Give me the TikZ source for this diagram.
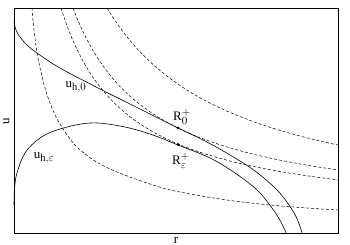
\documentclass[tikz,border=0pt]{standalone}
\usepackage{fontspec}
\setmainfont{Liberation Serif}
\DeclareMathSizes{13}{13}{10.5}{8}
\begin{document}
\begin{tikzpicture}[x=1pt,y=-1pt,
  frame/.style={line width=0.8pt},
  solidcurve/.style={line width=0.6pt},
  dashcurve/.style={line width=0.5pt,dash pattern=on 3pt off 2pt},
  lbl/.style={inner sep=0pt,font=\fontsize{13}{15}\selectfont},
  dot/.style={circle,fill=black,inner sep=0pt,minimum size=3pt}]
\useasboundingbox (0,0) rectangle (350,245);
\draw[frame] (14,8) rectangle (338,233);
% solid curves
\draw[solidcurve] plot[smooth,tension=0.6] coordinates {(14,22) (16,30) (20,37) (27,45) (37,53) (60,68) (100,89) (140,109) (178,128) (205,141) (230,155) (255,171) (277,190) (291,208) (298,221) (302,233)};
\draw[solidcurve] plot[smooth,tension=0.6] coordinates {(14,205) (14.6,188) (17,173) (25,153) (40,138) (60,129) (90,123) (120,126) (150,134) (178,145) (210,158) (235,173) (257,190) (272,208) (281,222) (286,233)};
% dashed curves
\draw[dashcurve] plot[smooth,tension=0.6] coordinates {(32,8) (34,30) (38,58) (45,88) (52,108) (60,124) (75,145) (95,161) (117,172) (150,184) (175,191) (220,199) (260,204) (300,207.5) (338,210)};
\draw[dashcurve] plot[domain=61:338,samples=80] (\x,{220.94-140.96/((\x+5.2)/100)});
\draw[dashcurve] plot[domain=73:338,samples=80] (\x,{218.06-165.53/((\x+5.8)/100)});
\draw[dashcurve] plot[domain=107:338,samples=80] (\x,{220.46-270.31/((\x+20.23)/100)});
% points
\node[dot] (R0) at (178,128) {};
\node[dot] (Re) at (178,144.5) {};
% labels
\node[lbl] (l0) at (76,87) {$\mathrm{u}_{\mathrm{h},0}$};
\node[lbl] (le) at (44,158) {$\mathrm{u}_{\mathrm{h},\varepsilon}$};
\node[lbl] (lr0) at (182,117) {$\mathrm{R}_0^+$};
\node[lbl] (lre) at (181,160.5) {$\mathrm{R}^{\raisebox{1pt}{$\scriptstyle+$}}_{\raisebox{-1pt}{$\scriptstyle\varepsilon$}}$};
\node[lbl,rotate=90] (au) at (6.5,121) {u};
\node[lbl,anchor=north] (ar) at (176,237) {r};
\end{tikzpicture}
\end{document}
